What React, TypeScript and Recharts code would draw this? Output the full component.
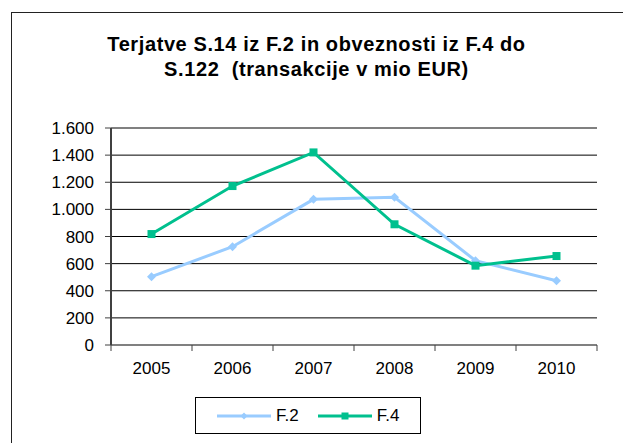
import React from 'react';
import { CartesianGrid, Line, LineChart, ReferenceLine, XAxis, YAxis } from 'recharts';

// values (mio EUR)
const years = ['2005', '2006', '2007', '2008', '2009', '2010'];
const f2Values = [504, 725, 1074, 1089, 622, 474];
const f4Values = [818, 1172, 1420, 890, 585, 656];
const yTicks = [0, 200, 400, 600, 800, 1000, 1200, 1400, 1600];
const boundaryTicks = [0, 1, 2, 3, 4, 5, 6];

const seriesNames = ['F.2', 'F.4'];
const seriesColors = ['#99CCFF', '#00C08E'];

const data = years.map((year, i) => ({ year, idx: i + 0.5, f2: f2Values[i], f4: f4Values[i] }));

const FONT = '"Liberation Sans", Arial, sans-serif';

// Utility: 1600 -> "1.600"
const formatThousands = (v: number) => String(v).replace(/\B(?=(\d{3})+(?!\d))/g, '.');

const Diamond = (props: any) => {
  const { cx, cy, index } = props;
  if (cx == null || cy == null) return null;
  const r = 4.5;
  return (
    <path
      key={`d-${index}`}
      d={`M${cx},${cy - r}L${cx + r},${cy}L${cx},${cy + r}L${cx - r},${cy}Z`}
      fill={seriesColors[0]}
    />
  );
};

const Square = (props: any) => {
  const { cx, cy, index } = props;
  if (cx == null || cy == null) return null;
  return <rect key={`s-${index}`} x={cx - 4} y={cy - 4} width={8} height={8} fill={seriesColors[1]} />;
};

function LegendBox() {
  return (
    <div
      style={{
        position: 'absolute',
        left: 195,
        top: 397,
        width: 226,
        height: 37,
        border: '1px solid #000',
        display: 'flex',
        alignItems: 'center',
        fontFamily: FONT,
        fontSize: 17,
        color: '#000',
        boxSizing: 'border-box',
        paddingLeft: 21,
      }}
    >
      {seriesNames.map((name, i) => (
        <div key={name} style={{ display: 'flex', alignItems: 'center', marginRight: i === 0 ? 19 : 0 }}>
          <svg width={54} height={10} style={{ marginRight: 5 }}>
            <line x1={0} y1={5} x2={54} y2={5} stroke={seriesColors[i]} strokeWidth={3} />
            {i === 0 ? (
              <path d="M27,1.5L30.5,5L27,8.5L23.5,5Z" fill={seriesColors[i]} />
            ) : (
              <rect x={23.5} y={1.5} width={7} height={7} fill={seriesColors[i]} />
            )}
          </svg>
          <span>{name}</span>
        </div>
      ))}
    </div>
  );
}

export default function App() {
  return (
    <div style={{ position: 'absolute', left: 0, top: 0, width: 623, height: 443, overflow: 'hidden', background: '#fff' }}>
      <div
        style={{
          position: 'absolute',
          left: 11,
          top: 12,
          width: 700,
          height: 600,
          border: '1.5px solid #222',
        }}
      />
      <div
        style={{
          position: 'absolute',
          left: 0,
          width: 633,
          top: 32,
          textAlign: 'center',
          fontFamily: 'Arial, "Liberation Sans", sans-serif',
          fontWeight: 'bold',
          fontSize: 20,
          lineHeight: '25px',
          letterSpacing: 0.6,
          color: '#000',
        }}
      >
        Terjatve S.14 iz F.2 in obveznosti iz F.4 do
        <br />
        S.122&nbsp; (transakcije v mio EUR)
      </div>
      <div style={{ position: 'absolute', left: 0, top: 0 }}>
        <LineChart width={623} height={443} data={data} margin={{ top: 128, right: 26, bottom: 67, left: 0 }}>
          <CartesianGrid vertical={false} stroke="#000" strokeWidth={1} yAxisId="left" xAxisId="b_cat" />
          <XAxis
            xAxisId="a_tk"
            dataKey="idx"
            type="number"
            domain={[0, 6]}
            ticks={boundaryTicks}
            height={1}
            tickFormatter={() => ''}
            axisLine={{ stroke: '#808080', strokeWidth: 2 }}
            tickLine={{ stroke: '#404040', strokeWidth: 1 }}
            tickSize={6}
            interval={0}
            allowDataOverflow
          />
          <XAxis
            xAxisId="b_cat"
            dataKey="year"
            scale="band"
            height={30}
            axisLine={false}
            tickLine={false}
            tickSize={0}
            tickMargin={16}
            interval={0}
            tick={{ fill: '#000', fontSize: 17, fontFamily: FONT }}
          />
          <YAxis
            yAxisId="left"
            width={111}
            domain={[0, 1600]}
            ticks={yTicks}
            tickFormatter={formatThousands}
            axisLine={{ stroke: '#404040', strokeWidth: 2 }}
            tickLine={{ stroke: '#404040', strokeWidth: 1 }}
            tickSize={6}
            tickMargin={11}
            tick={{ fill: '#000', fontSize: 17, fontFamily: FONT }}
          />
          <YAxis
            yAxisId="right"
            orientation="right"
            width={0}
            domain={[0, 1600]}
            tick={false}
            tickLine={false}
            axisLine={{ stroke: '#808080', strokeWidth: 2 }}
          />
          <ReferenceLine yAxisId="left" xAxisId="b_cat" y={1600} stroke="#808080" strokeWidth={2} />
          <Line
            xAxisId="b_cat"
            yAxisId="left"
            type="linear"
            dataKey="f2"
            name={seriesNames[0]}
            stroke={seriesColors[0]}
            strokeWidth={3}
            dot={Diamond}
            activeDot={false}
            isAnimationActive={false}
          />
          <Line
            xAxisId="b_cat"
            yAxisId="left"
            type="linear"
            dataKey="f4"
            name={seriesNames[1]}
            stroke={seriesColors[1]}
            strokeWidth={3}
            dot={Square}
            activeDot={false}
            isAnimationActive={false}
          />
        </LineChart>
      </div>
      <LegendBox />
    </div>
  );
}
